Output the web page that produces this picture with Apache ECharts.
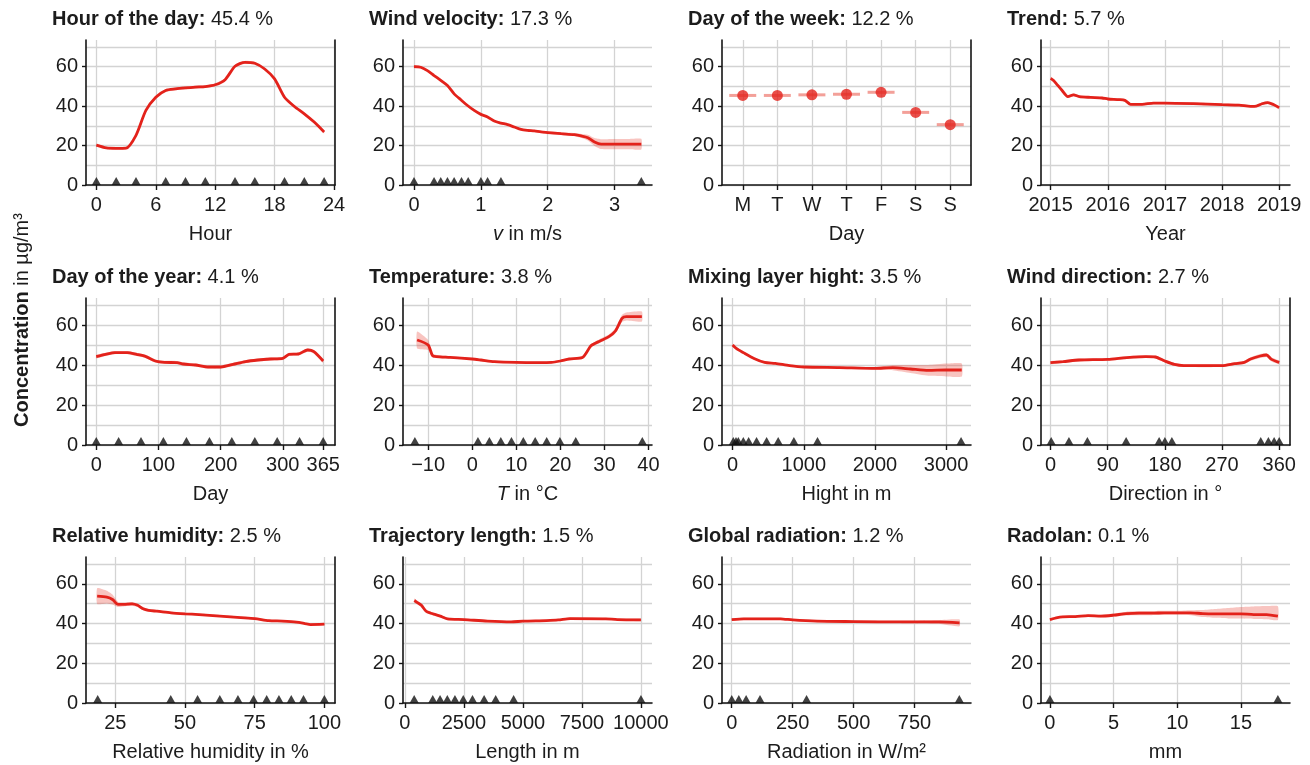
<!DOCTYPE html>
<html><head><meta charset="utf-8">
<script src="https://cdn.jsdelivr.net/npm/echarts@6/dist/echarts.min.js"></script>
<style>html,body{margin:0;padding:0;background:#fff}#c{width:1310px;height:765px}</style>
</head><body><div id="c"></div>
<script>
// ---------------- data ----------------
const yTickLabels = [0, 20, 40, 60];
const yGridValues = [0, 10, 20, 30, 40, 50, 60, 70];

// Hour of the day
const hourX = [0,1,2,3,4,5,6,7,8,9,10,11,12,13,14,15,16,17,18,19,20,21,22,23];
const hourY = [20.2,18.8,18.6,18.7,25.2,37.8,44.5,47.9,48.7,49.2,49.6,49.9,50.8,53.4,60.2,62.2,61.7,58.8,53.8,44.5,39.8,36.1,31.9,26.9];
const hourBand = [0.7,0.6,0.6,0.6,0.7,0.7,0.7,0.7,0.7,0.7,0.7,0.7,0.7,0.7,0.7,0.7,0.7,0.7,0.7,0.7,0.7,0.7,0.7,0.8];
const hourMarks = [0,2,4,7,9,11,14,16,19,21,23];
const hourTicks = [0,6,12,18,24];

// Wind velocity
const windX = [0,0.1,0.2,0.3,0.4,0.5,0.6,0.7,0.8,0.9,1.0,1.1,1.2,1.3,1.4,1.5,1.6,1.7,1.8,1.9,2.0,2.2,2.4,2.5,2.6,2.7,2.8,3.0,3.2,3.4];
const windY = [60,59.7,58,55.5,53,50.4,46.2,43.2,40.3,37.8,35.8,34.5,32.4,31.4,30.6,29.4,28.2,27.7,27.4,26.9,26.6,26,25.5,24.9,24,21.8,20.7,20.7,20.7,20.7];
const windBand = [0.8,0.6,0.5,0.5,0.5,0.5,0.5,0.5,0.5,0.5,0.5,0.5,0.5,0.5,0.5,0.5,0.5,0.5,0.5,0.5,0.6,0.7,0.8,1.0,1.5,2.0,2.5,2.6,2.6,2.7];
const windMarks = [0,0.3,0.4,0.5,0.6,0.71,0.81,1.0,1.1,1.3,3.4];
const windTicks = [0,1,2,3];

// Day of the week
const dayCats = ['M','T','W','T','F','S','S'];
const dayY = [45.4,45.4,45.7,46.0,47.0,36.8,30.6];
const dayTicks = [0,1,2,3,4,5,6];

// Trend
const trendX = [2015.0,2015.05,2015.1,2015.2,2015.3,2015.4,2015.5,2015.7,2015.9,2016.0,2016.2,2016.3,2016.4,2016.6,2016.8,2017.0,2017.5,2018.0,2018.3,2018.5,2018.6,2018.7,2018.8,2018.9,2019.0];
const trendY = [54.1,53,51.3,47.9,44.8,45.7,44.8,44.4,44.1,43.6,43.3,42.9,40.9,40.9,41.5,41.5,41.2,40.7,40.5,39.9,40,41.2,41.8,40.8,39.2];
const trendBand = [0.8,0.8,0.7,0.7,0.7,0.7,0.7,0.6,0.6,0.6,0.6,0.6,0.6,0.6,0.6,0.6,0.6,0.6,0.6,0.6,0.6,0.7,0.7,0.7,0.8];
const trendTicks = [2015,2016,2017,2018,2019];

// Day of the year
const doyX = [0,15,30,50,65,80,95,110,130,140,160,180,200,220,240,260,280,300,310,325,340,350,365];
const doyY = [44.2,45.3,46.2,46.2,45.3,44.2,42,41.3,41.2,40.5,40,39,39,40.3,41.7,42.5,43,43.3,45.3,45.5,47.5,46.7,42];
const doyBand = [0.9,0.8,0.8,0.8,0.8,0.8,0.8,0.8,0.8,0.8,0.8,0.8,0.8,0.8,0.8,0.8,0.8,0.8,0.8,0.8,0.9,0.9,1.0];
const doyMarks = [0,36,72,108,145,182,218,255,291,327,365];
const doyTicks = [0,100,200,300,365];

// Temperature
const tempX = [-12.5,-10,-9,-8,-5,0,2,5,10,15,18,20,22,25,27,29,31,32.5,34,35,38.5];
const tempY = [52.5,50,44.7,44.2,43.8,43,42.5,41.7,41.3,41.2,41.3,42,43,43.7,49.7,52,54.2,57,63.3,64.2,64.2];
const tempBand = [4.2,2.5,1.0,0.8,0.6,0.5,0.5,0.5,0.5,0.5,0.5,0.5,0.6,0.7,0.8,1.0,1.0,1.2,1.8,2.0,2.5];
const tempMarks = [-13,1.3,3.9,6.5,8.9,11.6,14.3,16.9,19.9,23.5,38.6];
const tempTicks = [-10,0,10,20,30,40];

// Mixing layer height
const mixX = [0,50,150,300,450,600,800,1000,1500,2000,2250,2500,2750,3000,3220];
const mixY = [50,48.3,46.2,43.3,41.3,40.8,39.7,39,38.7,38.3,38.7,38,37.3,37.5,37.5];
const mixBand = [0.8,0.7,0.6,0.5,0.5,0.5,0.5,0.5,0.5,0.6,1.3,2.0,2.7,3.2,3.3];
const mixMarks = [9,47,79,150,224,336,477,640,860,1192,3210];
const mixTicks = [0,1000,2000,3000];

// Wind direction
const dirX = [0,20,45,90,120,150,165,180,195,210,270,290,305,315,330,340,348,360];
const dirY = [41.2,41.7,42.5,42.8,43.7,44.2,44,42,40.3,39.7,39.7,40.7,41.3,43,44.5,45,42.8,41.3];
const dirBand = [0.8,0.7,0.7,0.7,0.7,0.7,0.7,0.7,0.7,0.7,0.7,0.7,0.8,0.9,1.0,1.0,1.0,0.9];
const dirMarks = [1,29,58,119,171,180,191,331,343,352,360];
const dirTicks = [0,90,180,270,360];

// Relative humidity
const rhX = [18.5,22,24,26,28,31,33,35,37,40,45,50,55,60,65,70,75,80,85,90,93,95,100];
const rhY = [53.8,53.3,52.1,49.6,49.6,49.9,49.2,47.4,46.6,46.2,45.4,44.9,44.5,44,43.5,43,42.5,41.5,41.2,40.7,40,39.5,39.7];
const rhBand = [4.0,3.2,2.5,1.3,1.0,1.0,0.9,0.8,0.7,0.6,0.5,0.5,0.5,0.5,0.5,0.5,0.5,0.5,0.5,0.5,0.5,0.5,0.6];
const rhMarks = [18.7,44.9,54.5,62.5,69,74.6,79.3,83.7,88.1,92.5,100];
const rhTicks = [25,50,75,100];

// Trajectory length
const trajX = [400,550,700,900,1100,1300,1500,1800,2500,3500,4500,5000,6000,6500,7000,8500,9000,10000];
const trajY = [51.6,50.4,49.2,46.2,45.2,44.5,43.7,42.4,42,41.2,40.8,41.2,41.5,41.8,42.5,42.4,42,41.8];
const trajBand = [1.0,0.9,0.8,0.7,0.6,0.6,0.6,0.6,0.5,0.5,0.5,0.5,0.5,0.5,0.5,0.5,0.5,0.6];
const trajMarks = [393,1180,1489,1798,2121,2472,2865,3357,3848,4607,10000];
const trajTicks = [0,2500,5000,7500,10000];

// Global radiation
const radX = [0,50,200,250,350,500,700,850,935];
const radY = [42,42.4,42.4,41.8,41.2,41,40.8,40.8,40.3];
const radBand = [0.5,0.5,0.5,0.5,0.5,0.5,0.6,0.9,1.7];
const radMarks = [0,29,59,116,307,934];
const radTicks = [0,250,500,750];

// Radolan
const radoX = [0,0.5,1,2,3,4,5,6,7,8,9,10,11,12,13,14,15,16,17,17.9];
const radoY = [42,42.9,43.4,43.5,44,43.7,44.2,45,45.2,45.2,45.4,45.4,45.4,45,44.9,44.9,44.9,44.5,44.5,43.7];
const radoLo = [41.5,42.4,42.9,43,43.5,43.1,43.5,44.1,44.2,44.2,44.4,44.4,44.2,43.3,42.9,42.6,42.5,42.3,42.2,41.8];
const radoHi = [42.5,43.4,43.9,44,44.5,44.4,45,46,46.3,46.3,46.4,46.4,46.7,46.8,47.3,47.8,48.3,48.6,48.8,48.7];
const radoMarks = [0,17.9];
const radoTicks = [0,5,10,15];

// ---------------- panels ----------------
const panels = [
  {t:'Hour of the day:', v:'45.4 %', name:'Hour', min:-1.05, max:24.1, ticks:hourTicks, x:hourX, y:hourY, band:hourBand, marks:hourMarks, border:true},
  {t:'Wind velocity:', v:'17.3 %', name:'{i|v} in m/s', min:-0.165, max:3.56, ticks:windTicks, x:windX, y:windY, band:windBand, marks:windMarks},
  {t:'Day of the week:', v:'12.2 %', name:'Day', min:-0.6, max:6.6, ticks:dayTicks, cats:dayCats, dayY:dayY, border:true},
  {t:'Trend:', v:'5.7 %', name:'Year', min:2014.83, max:2019.19, ticks:trendTicks, x:trendX, y:trendY, band:trendBand, marks:[]},
  {t:'Day of the year:', v:'4.1 %', name:'Day', min:-16.5, max:384, ticks:doyTicks, x:doyX, y:doyY, band:doyBand, marks:doyMarks, border:true},
  {t:'Temperature:', v:'3.8 %', name:'{i|T} in °C', min:-15.7, max:40.8, ticks:tempTicks, x:tempX, y:tempY, band:tempBand, marks:tempMarks, minus:true},
  {t:'Mixing layer hight:', v:'3.5 %', name:'Hight in m', min:-150, max:3350, ticks:mixTicks, x:mixX, y:mixY, band:mixBand, marks:mixMarks},
  {t:'Wind direction:', v:'2.7 %', name:'Direction in °', min:-15, max:377, ticks:dirTicks, x:dirX, y:dirY, band:dirBand, marks:dirMarks, border:true},
  {t:'Relative humidity:', v:'2.5 %', name:'Relative humidity in %', min:14.5, max:103.8, ticks:rhTicks, x:rhX, y:rhY, band:rhBand, marks:rhMarks, border:true},
  {t:'Trajectory length:', v:'1.5 %', name:'Length in m', min:-80, max:10470, ticks:trajTicks, x:trajX, y:trajY, band:trajBand, marks:trajMarks},
  {t:'Global radiation:', v:'1.2 %', name:'Radiation in W/m²', min:-40, max:982, ticks:radTicks, x:radX, y:radY, band:radBand, marks:radMarks},
  {t:'Radolan:', v:'0.1 %', name:'mm', min:-0.7, max:18.85, ticks:radoTicks, x:radoX, y:radoY, lo:radoLo, hi:radoHi, marks:radoMarks}
];

// ---------------- build ----------------
const FONT = '"Liberation Sans", Arial, Helvetica, sans-serif';
const TXT = '#1c1c1c';
const AX = '#151515';
const GRIDC = '#d3d3d3';
const RED = '#e3221b';
const BANDC = 'rgba(232,70,60,0.32)';
const YMAX = 73.5;
const colL = [86, 403, 722, 1041];
const rowT = [40, 298, 557];
const rowH = [145, 147, 146];

const grids = [], xAxes = [], yAxes = [], series = [], titles = [];

panels.forEach((p, i) => {
  const r = Math.floor(i / 4), c = i % 4;
  grids.push({left: colL[c], top: rowT[r], width: 249, height: rowH[r], containLabel: false, outerBoundsMode: 'none'});
  titles.push({
    text: '{b|' + p.t + '} ' + p.v,
    left: colL[c] - 34, top: rowT[r] - 31, padding: 0,
    textStyle: {fontFamily: FONT, fontSize: 20, fontWeight: 'normal', color: TXT,
      rich: {b: {fontFamily: FONT, fontSize: 20, fontWeight: 'bold', color: TXT}}}
  });
  let fmt;
  if (p.cats) fmt = v => p.cats[Math.round(v)];
  else if (p.minus) fmt = v => (v < 0 ? '\u2212' + (-v) : String(v));
  else fmt = v => String(v);
  xAxes.push({
    gridIndex: i, type: 'value', min: p.min, max: p.max,
    axisLine: {show: true, onZero: false, lineStyle: {color: AX, width: 1.6}},
    axisTick: {show: true, customValues: p.ticks, length: 5, lineStyle: {color: AX, width: 1.4}},
    axisLabel: {customValues: p.ticks, formatter: fmt, fontFamily: FONT, fontSize: 20, color: TXT, margin: 10, showMinLabel: true, showMaxLabel: true},
    splitLine: {show: true, lineStyle: {color: GRIDC, width: 1.3}},
    name: p.name, nameLocation: 'middle', nameGap: 39,
    nameTextStyle: {fontFamily: FONT, fontSize: 20, color: TXT,
      rich: {i: {fontFamily: FONT, fontSize: 20, color: TXT, fontStyle: 'italic'}}}
  });
  const yi = yAxes.length;
  yAxes.push({
    gridIndex: i, type: 'value', min: 0, max: YMAX, position: 'left',
    axisLine: {show: true, onZero: false, lineStyle: {color: AX, width: 1.6}},
    axisTick: {show: false, customValues: yGridValues},
    axisLabel: {customValues: yTickLabels, fontFamily: FONT, fontSize: 20, color: TXT, margin: 8},
    splitLine: {show: true, lineStyle: {color: GRIDC, width: 1.3}}
  });
  yAxes.push({
    gridIndex: i, type: 'value', min: 0, max: YMAX, position: 'left',
    axisLine: {show: false, onZero: false},
    axisTick: {show: true, customValues: yTickLabels, length: 4, lineStyle: {color: AX, width: 1.4}},
    axisLabel: {show: false}, splitLine: {show: false}
  });
  if (p.border) {
    yAxes.push({
      gridIndex: i, type: 'value', min: 0, max: YMAX, position: 'right',
      axisLine: {show: true, onZero: false, lineStyle: {color: AX, width: 1.6}},
      axisTick: {show: false}, axisLabel: {show: false}, splitLine: {show: false}
    });
  }

  if (p.cats) {
    const pts = p.dayY.map((v, k) => [k, v]);
    series.push({
      type: 'custom', xAxisIndex: i, yAxisIndex: yi, z: 3,
      data: pts,
      renderItem: (params, api) => {
        const x = api.value(0), y = api.value(1);
        const a = api.coord([x - 0.39, y]), b = api.coord([x + 0.39, y]);
        return {type: 'line', shape: {x1: a[0], y1: a[1], x2: b[0], y2: b[1]},
          style: {stroke: 'rgba(238,120,110,0.7)', lineWidth: 3}};
      }
    });
    series.push({
      type: 'scatter', xAxisIndex: i, yAxisIndex: yi, z: 4, data: pts,
      symbol: 'circle', symbolSize: 11, itemStyle: {color: RED}
    });
    return;
  }

  const lo = p.lo || p.y.map((v, k) => v - p.band[k]);
  const hi = p.hi || p.y.map((v, k) => v + p.band[k]);
  const xs = p.x;
  series.push({
    type: 'custom', xAxisIndex: i, yAxisIndex: yi, z: 2,
    data: [[xs[0], p.y[0]]],
    renderItem: (params, api) => {
      const poly = [];
      for (let k = 0; k < xs.length; k++) poly.push(api.coord([xs[k], hi[k]]));
      for (let k = xs.length - 1; k >= 0; k--) poly.push(api.coord([xs[k], lo[k]]));
      return {type: 'polygon', shape: {points: poly, smooth: 0.15}, style: {fill: BANDC}};
    }
  });
  series.push({
    type: 'line', xAxisIndex: i, yAxisIndex: yi, z: 3,
    data: xs.map((v, k) => [v, p.y[k]]),
    smooth: 0.25, showSymbol: false, symbol: 'none',
    lineStyle: {color: RED, width: 2.8}
  });
  if (p.marks.length) {
    series.push({
      type: 'scatter', xAxisIndex: i, yAxisIndex: yi, z: 4, clip: false,
      data: p.marks.map(v => [v, 0]),
      symbol: 'triangle', symbolSize: [9, 8], symbolOffset: [0, -4],
      itemStyle: {color: '#111'}
    });
  }
});

const chart = echarts.init(document.getElementById('c'));
chart.setOption({
  animation: false,
  backgroundColor: '#ffffff',
  title: titles,
  grid: grids,
  xAxis: xAxes,
  yAxis: yAxes,
  series: series,
  graphic: [{
    type: 'text', x: 22, y: 320, rotation: Math.PI / 2,
    style: {
      text: '{b|Concentration} in µg/m³',
      fontFamily: FONT, fontSize: 20, fill: TXT,
      align: 'center', verticalAlign: 'middle',
      rich: {b: {fontFamily: FONT, fontSize: 20, fontWeight: 'bold', fill: TXT}}
    }
  }]
});
</script>
</body></html>
